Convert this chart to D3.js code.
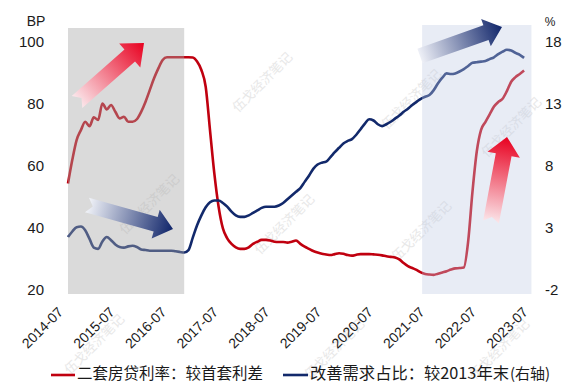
<!DOCTYPE html>
<html>
<head>
<meta charset="utf-8">
<script src="https://cdn.jsdelivr.net/npm/d3@7"></script>
<style>
  html, body { margin: 0; padding: 0; background: #ffffff; }
  svg { display: block; }
  text { font-family: "Liberation Sans", Arial, sans-serif; fill: #1a1a1a; }
  .cjk { font-family: "Noto Sans CJK SC", sans-serif; }
</style>
</head>
<body>
<svg id="chart" width="566" height="383"></svg>
<script>
// Monthly series, starting 2014-07
const startMonth = "2014-07";

// 二套房贷利率较首套利差 (BP, left axis)
const secondHomeSpread = [
  54.7, 62.3, 68.7, 71.9, 74.6, 73.2, 76.0, 75.2, 80.5, 78.6, 80.0, 77.8,
  75.7, 76.2, 74.6, 74.6, 75.4, 77.8, 81.0, 84.8, 88.6, 91.8, 94.5, 95.4,
  95.4, 95.4, 95.4, 95.4, 95.4, 95.3, 94.0, 91.3, 85.9, 71.9, 58.0, 47.2,
  40.2, 37.0, 35.2, 34.1, 33.6, 33.6, 34.1, 35.2, 35.9, 36.5, 36.5, 36.3,
  35.9, 35.8, 35.8, 35.6, 35.9, 36.3, 35.2, 34.3, 33.6, 32.9, 32.4, 32.0,
  31.8, 31.6, 31.9, 32.2, 32.0, 31.6, 31.4, 31.7, 31.9, 31.9, 31.9, 31.8,
  31.7, 31.5, 31.2, 31.0, 30.8, 30.2, 29.0, 28.0, 27.4, 26.8, 26.0, 25.5,
  25.3, 25.2, 25.6, 26.0, 26.4, 26.9, 27.3, 27.4, 27.6, 36.0, 52.0, 65.0,
  72.0, 74.5, 77.0, 79.5, 81.0, 82.0, 84.5, 87.5, 89.0, 90.0, 91.1
];

// 改善需求占比较2013年末 (%, right axis)
const upgradeShare = [
  2.35, 2.8, 3.15, 3.2, 2.9, 2.2, 1.5, 1.4, 2.0, 2.35, 2.1, 1.75,
  1.55, 1.5, 1.6, 1.65, 1.55, 1.35, 1.3, 1.25, 1.25, 1.25, 1.25, 1.25,
  1.25, 1.2, 1.15, 1.1, 1.3, 2.3, 3.3, 4.1, 4.75, 5.15, 5.3, 5.3,
  5.1, 4.8, 4.4, 4.1, 3.98, 3.98, 4.1, 4.3, 4.5, 4.7, 4.8, 4.8,
  4.8, 4.9, 5.1, 5.4, 5.7, 6.0, 6.3, 6.8, 7.3, 7.85, 8.2, 8.35,
  8.43, 8.8, 9.2, 9.55, 9.9, 10.1, 10.25, 10.6, 11.05, 11.5, 11.85, 11.75,
  11.45, 11.3, 11.45, 11.65, 11.9, 12.15, 12.45, 12.7, 13.0, 13.25, 13.5, 13.67,
  13.8, 14.2, 14.75, 15.2, 15.55, 15.5, 15.55, 15.7, 15.9, 16.15, 16.4, 16.45,
  16.5, 16.55, 16.7, 16.85, 17.1, 17.3, 17.45, 17.4, 17.2, 17.05, 16.8
];

const xTickLabels = ["2014-07", "2015-07", "2016-07", "2017-07", "2018-07",
                     "2019-07", "2020-07", "2021-07", "2022-07", "2023-07"];
const leftTicks = [20, 40, 60, 80, 100];
const rightTicks = [-2, 3, 8, 13, 18];

// Highlighted periods, in months since start
const shadedPeriods = [
  { from: 0, to: 27, fill: "rgb(167,167,167)", opacity: 0.42 },
  { from: 82.3, to: 107.7, fill: "rgb(190,202,228)", opacity: 0.36 }
];

const legendItems = [
  { label: "二套房贷利率：较首套利差", color: "#c0000f" },
  { label: "改善需求占比：较2013年末", suffix: "(右轴)", color: "#12296b" }
];

const svg = d3.select("#chart");
const W = 566, H = 383;

const x = d3.scaleLinear().domain([0, 108]).range([68, 532.7]);
const yL = d3.scaleLinear().domain([20, 100]).range([291, 43]);
const yR = d3.scaleLinear().domain([-2, 18]).range([291, 43]);

svg.append("rect").attr("width", W).attr("height", H).attr("fill", "#ffffff");

// faint publisher marks in the background
const marks = [[263, 83], [285, 225], [150, 205], [412, 100], [512, 128],
               [422, 232], [95, 345], [335, 350], [500, 350]];
svg.append("g").selectAll("text").data(marks).join("text")
  .attr("class", "cjk")
  .attr("transform", d => `translate(${d[0]},${d[1]}) rotate(-45)`)
  .attr("text-anchor", "middle")
  .attr("dominant-baseline", "middle")
  .style("font-size", "13px")
  .style("fill", "#d9d9d9")
  .style("opacity", 0.6)
  .text("伍戈经济笔记");

// series lines
const lineL = d3.line().x((d, i) => x(i)).y(d => yL(d)).curve(d3.curveMonotoneX);
const lineR = d3.line().x((d, i) => x(i)).y(d => yR(d)).curve(d3.curveMonotoneX);

svg.append("path").datum(secondHomeSpread)
  .attr("d", lineL).attr("fill", "none")
  .attr("stroke", legendItems[0].color).attr("stroke-width", 2.6)
  .attr("stroke-linejoin", "round");

svg.append("path").datum(upgradeShare)
  .attr("d", lineR).attr("fill", "none")
  .attr("stroke", legendItems[1].color).attr("stroke-width", 2.6)
  .attr("stroke-linejoin", "round");

// translucent period highlights laid over the lines
svg.append("g").selectAll("rect").data(shadedPeriods).join("rect")
  .attr("x", d => x(d.from))
  .attr("width", d => x(d.to) - x(d.from))
  .attr("y", (d, i) => i === 0 ? 28 : 25)
  .attr("height", (d, i) => i === 0 ? 266 : 269)
  .attr("fill", d => d.fill)
  .attr("opacity", d => d.opacity);

// gradient arrows
const defs = svg.append("defs");
const arrows = [
  { id: "a1", tail: [77, 102], tip: [144, 43], w: 16, hw: 32, hl: 19, notch: 6, c0: "#fbe8ec", c1: "#e8001f" },
  { id: "a2", tail: [87, 205], tip: [173, 229], w: 15, hw: 30, hl: 18, notch: 6, c0: "#f2f4f9", c1: "#10256a" },
  { id: "a3", tail: [420, 56], tip: [502, 27], w: 15.5, hw: 29, hl: 17, notch: 0, c0: "#eef0f7", c1: "#10256a" },
  { id: "a4", tail: [491, 222], tip: [507, 137], w: 16, hw: 33, hl: 18, notch: 5, c0: "#fbe6ea", c1: "#e8001f" }
];
arrows.forEach(a => {
  const g = defs.append("linearGradient").attr("id", a.id)
    .attr("gradientUnits", "userSpaceOnUse")
    .attr("x1", a.tail[0]).attr("y1", a.tail[1])
    .attr("x2", a.tip[0]).attr("y2", a.tip[1]);
  g.append("stop").attr("offset", "0%").attr("stop-color", a.c0);
  g.append("stop").attr("offset", "100%").attr("stop-color", a.c1);

  const dx = a.tip[0] - a.tail[0], dy = a.tip[1] - a.tail[1];
  const L = Math.hypot(dx, dy);
  const ux = dx / L, uy = dy / L, vx = -uy, vy = ux;
  const P = (u, v) => [a.tail[0] + ux * u + vx * v, a.tail[1] + uy * u + vy * v];
  const pts = [
    P(0, -a.w / 2), P(L - a.hl, -a.w / 2), P(L - a.hl, -a.hw / 2), P(L, 0),
    P(L - a.hl, a.hw / 2), P(L - a.hl, a.w / 2), P(0, a.w / 2), P(a.notch, 0)
  ];
  svg.append("polygon")
    .attr("points", pts.map(p => p.join(",")).join(" "))
    .attr("fill", `url(#${a.id})`);
});

// left axis labels
svg.append("text").attr("x", 36).attr("y", 22).attr("text-anchor", "middle")
  .attr("dominant-baseline", "middle").style("font-size", "14px").text("BP");
svg.append("g").selectAll("text").data(leftTicks).join("text")
  .attr("x", 44).attr("y", d => yL(d))
  .attr("text-anchor", "end").attr("dominant-baseline", "middle")
  .style("font-size", "15px").text(d => d);

// right axis labels
svg.append("text").attr("x", 550).attr("y", 23).attr("text-anchor", "middle")
  .attr("dominant-baseline", "middle").style("font-size", "12px").text("%");
svg.append("g").selectAll("text").data(rightTicks).join("text")
  .attr("x", 545).attr("y", d => yR(d))
  .attr("text-anchor", "start").attr("dominant-baseline", "middle")
  .style("font-size", "15px").text(d => d);

// x axis labels, one per July
svg.append("g").selectAll("text").data(xTickLabels).join("text")
  .attr("transform", (d, i) => `translate(${x(i * 12) - 4},313) rotate(-45)`)
  .attr("text-anchor", "end")
  .style("font-size", "14px")
  .text(d => d);

// legend
const lg = svg.append("g").attr("class", "legend");
lg.append("line").attr("x1", 51).attr("x2", 75).attr("y1", 375).attr("y2", 375)
  .attr("stroke", legendItems[0].color).attr("stroke-width", 2.6);
lg.append("text").attr("class", "cjk").attr("x", 77).attr("y", 375)
  .attr("dominant-baseline", "middle").style("font-size", "15.5px")
  .text(legendItems[0].label);
lg.append("line").attr("x1", 283).attr("x2", 308).attr("y1", 375).attr("y2", 375)
  .attr("stroke", legendItems[1].color).attr("stroke-width", 2.6);
const t2 = lg.append("text").attr("class", "cjk").attr("x", 310).attr("y", 375)
  .attr("dominant-baseline", "middle").style("font-size", "16.3px");
t2.append("tspan").text(legendItems[1].label);
t2.append("tspan").style("font-size", "15px").attr("dx", 1).text(legendItems[1].suffix);
</script>
</body>
</html>
